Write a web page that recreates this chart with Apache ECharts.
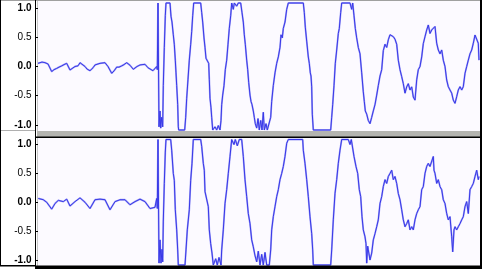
<!DOCTYPE html>
<html><head><meta charset="utf-8">
<script src="https://cdn.jsdelivr.net/npm/echarts@6/dist/echarts.min.js"></script>
<style>html,body{margin:0;padding:0;background:#fff}#c{width:482px;height:269px}</style>
</head><body><div id="c"></div>
<script>
// time in display columns, amplitude in [-1, 1]
const topChannel = [
[0,0.05],[4,0.07],[7,0.06],[10,0.04],[13.7,-0.08],[16,-0.05],[18.7,-0.03],[21,-0.01],[23.7,0.01],[26,0.03],[28.7,0.05],[32,-0.055],[34,-0.04],[37,0],[40,0.01],[42,0.06],[44,0.04],[47,0],[49,-0.04],[52,-0.066],[55,-0.02],[57,0.024],[62,0.05],[67,0.06],[70,0],[73.7,-0.107],[76,-0.07],[78.7,-0.01],[81,-0.01],[83.7,0.01],[86,0.03],[88.7,0.06],[92,0.02],[95.3,-0.044],[99,0],[102,0.024],[107,0.035],[110,-0.02],[112,-0.044],[115,-0.066],[117,-0.04],[118.7,0],
[119.3,-0.05],[120,1],[120.7,1],[121,-0.95],[122,-0.7],[122.7,-0.97],[123.7,-0.8],[124.7,-0.95],[125.3,-0.3],[126.3,0.3],[127.3,0.8],[128,1],[132,1],[133,0.79],[134,0.7],[135.3,0.5],[136.3,0.35],[137.3,0.1],[138,-0.1],[138.7,-0.3],[139.7,-0.6],[140.3,-0.95],[140.7,-1],[146.7,-1],[147.7,-0.8],[148.7,-0.5],[150,-0.2],[151.3,0.1],[152.7,0.35],[153.7,0.55],[154.7,0.8],[155.7,1],[162.7,1],[163.7,0.85],[164.7,0.7],[166,0.45],[167,0.3],[168,0.13],[169.3,0.1],[170.7,0.05],[171.3,-0.2],[172,-0.5],[173,-0.65],[173.7,-0.8],[174.7,-1],[177,-0.95],[178.7,-1],[180.3,-0.93],[182,-1],[183,-0.85],[183.7,-0.6],[184.7,-0.45],[186,-0.3],[187.3,-0.05],[188.7,0.1],[190,0.35],[191.3,0.6],[192.7,0.8],[193.7,1],[195.3,0.9],[196.3,1],[198.7,0.95],[200.3,1],[202.7,1],[204,0.85],[205.3,0.7],[206.3,0.5],[207.3,0.35],[208.7,0.1],[209.7,-0.05],[210.7,-0.25],[212,-0.45],[213,-0.55],[214,-0.6],[215.3,-0.7],[216.3,-0.8],[217.3,-0.9],[218.7,-0.97],[220,-0.82],[221.3,-1],[222.7,-0.85],[224,-1],[225.3,-0.72],[226.3,-1],[228,-0.9],[229.3,-1],[231.3,-1],[232.7,-0.8],[233.7,-0.55],[235.3,-0.3],[237,-0.1],[238.7,0.05],[240.3,0.15],[242,0.3],[243,0.5],[244.3,0.45],[245.3,0.6],[247,0.7],[248.7,0.9],[250.3,1],[265.3,1],[266.3,0.85],[267.3,0.62],[268.7,0.4],[270.3,0.15],[271.3,0.05],[272.3,-0.1],[273,-0.15],[273.7,-0.32],[274.3,-0.75],[275.3,-1],[292.7,-1],[293.7,-0.8],[294.7,-0.6],[296,-0.3],[297.3,0.05],[298.7,0.26],[300.3,0.52],[301.3,0.6],[302.7,0.85],[303.7,1],[312,1],[313.7,0.9],[314.7,1],[316,0.8],[317.3,0.6],[318.7,0.45],[320.3,0.3],[322,0.2],[323.7,-0.1],[325.3,-0.4],[326.3,-0.55],[327.3,-0.7],[328.7,-0.75],[330.3,-0.85],[332,-0.9],[333.7,-0.8],[335.3,-0.7],[337,-0.6],[338.7,-0.45],[340.3,-0.3],[342,-0.15],[343.7,-0.05],[345.3,0.25],[347,0.35],[348.7,0.3],[350.3,0.42],[352,0.5],[353.7,0.52],[355.3,0.47],[357,0.43],[358.7,0.35],[360.3,0.1],[362,-0.05],[363.7,-0.16],[365.3,-0.27],[367,-0.42],[368.7,-0.32],[370.3,-0.27],[372,-0.37],[373.7,-0.32],[375.3,-0.48],[377,-0.53],[378.7,-0.21],[380.3,-0.05],[382,0],[383.7,0.15],[385.3,0.36],[387,0.47],[388.7,0.575],[390.3,0.654],[392,0.52],[393.7,0.575],[395.3,0.6],[397,0.63],[398.7,0.365],[400.3,0.26],[402,0.2],[403.7,0.26],[405.3,0.1],[407,0],[408.7,-0.213],[410.3,-0.318],[412,-0.37],[413.7,-0.42],[415.3,-0.53],[417,-0.58],[418.7,-0.475],[420.3,-0.37],[422,-0.318],[423.7,-0.37],[425.3,-0.318],[427,-0.108],[428.7,0],[430.3,0.1],[432,0.2],[433.7,0.26],[435.3,0.365],[437,0.496],[438.7,0.47],[440.3,0.365],[441,0.1]
];
const bottomChannel = [
[0.3,0.06],[5.3,0.04],[8.7,0],[13.7,-0.11],[17,-0.02],[20.3,0.03],[25.3,0.01],[28.7,0.05],[32,-0.06],[37,0.01],[42,0.07],[47,0],[52,-0.1],[57,0.04],[62,0.05],[67,0.04],[72,-0.12],[77,0.01],[82,0.04],[87,0.04],[92,-0.04],[97,0.01],[102,0.05],[107,0.01],[112,-0.1],[117,-0.08],[118.7,0.06],
[119.3,-0.1],[120,1],[120.7,1],[121,-0.97],[122,-0.6],[123,-0.97],[124,-0.75],[124.7,-0.95],[125.3,-0.3],[126.3,0.3],[127.3,0.8],[128,1],[132.7,1],[133.7,0.83],[135.3,0.46],[136.3,0.35],[137.3,-0.12],[138.7,-0.44],[139.7,-0.76],[140.3,-1],[147,-1],[148,-0.76],[149.3,-0.44],[151.3,-0.12],[152.7,0.35],[154,0.62],[155.3,1],[162.7,1],[163.7,0.89],[165.3,0.62],[166.3,0.51],[167,0.17],[168.7,0.14],[170.3,-0.07],[171.3,-0.44],[172.7,-0.66],[174,-0.81],[175.3,-1],[177.7,-0.9],[179.3,-1],[181,-0.88],[183,-1],[183.7,-0.76],[185.3,-0.44],[187,-0.02],[188.7,0.2],[190.3,0.46],[192,0.73],[193.7,1],[196,0.92],[197.3,1],[199.3,0.9],[201.3,1],[203.7,1],[205.3,0.73],[207,0.36],[208.7,0.09],[210.3,-0.18],[212,-0.34],[213.7,-0.6],[215.3,-0.71],[217,-0.85],[218.7,-0.95],[220.3,-0.78],[222,-1],[223.7,-0.83],[225.3,-1],[227,-0.8],[228.7,-1],[231.3,-1],[232.7,-0.76],[233.7,-0.44],[235.3,-0.23],[237,-0.07],[238.7,0.09],[240.3,0.2],[242,0.36],[243.7,0.46],[245.3,0.57],[247,0.73],[248.7,0.94],[250.3,1],[264.7,1],[265.3,0.83],[267,0.62],[268.7,0.36],[270.3,0.09],[272,-0.23],[273.7,-0.5],[274.7,-0.76],[275.3,-1],[292.7,-1],[293.7,-0.76],[295.3,-0.28],[297,0.14],[298.7,0.36],[300.3,0.62],[302,0.83],[303.7,1],[310.3,1],[312,0.92],[313.3,1],[314.7,1],[316,0.73],[318,0.57],[319.7,0.46],[321.3,0.2],[322.7,0.09],[324,-0.23],[325.3,-0.44],[327,-0.55],[328,-0.66],[328.7,-0.97],[329.7,-0.7],[330.3,-0.76],[332,-0.92],[333.7,-0.81],[335.3,-0.6],[337,-0.5],[338.7,-0.39],[340.3,-0.28],[342,-0.02],[343.7,0.09],[345.3,0.25],[347,0.36],[348.7,0.3],[350.3,0.41],[352,0.46],[353.7,0.51],[355.3,0.36],[357,0.41],[358.7,0.3],[360.3,0.14],[362,0.04],[363.7,-0.12],[365.3,-0.28],[367,-0.39],[368.7,-0.34],[370.3,-0.28],[372,-0.44],[373.7,-0.39],[375.3,-0.44],[377,-0.28],[378.7,-0.18],[380.3,-0.12],[382,-0.07],[383.7,0.2],[385.3,0.25],[387,0.46],[388.7,0.57],[390.3,0.62],[392,0.57],[393.7,0.57],[395.3,0.73],[396,0.51],[397,0.46],[398.7,0.3],[400.3,0.36],[402,0.25],[403.7,0.2],[405.3,0.04],[407,-0.02],[408.7,-0.18],[410.3,-0.28],[412,-0.23],[413.7,-0.55],[414.7,-0.79],[416,-0.44],[417,-0.39],[418.7,-0.44],[420.3,-0.39],[422,-0.34],[423.7,-0.28],[425.3,-0.23],[427,-0.07],[428.7,0.01],[430.3,-0.18],[432,0.2],[433.7,0.25],[435.3,0.3],[437,0.41],[438.7,0.51],[440.3,0.36],[441,0.41]
];
const tickValues = [-1, -0.5, 0, 0.5, 1];
const tickLabels = ['-1.0', '-0.5', '0.0', '0.5', '1.0'];
const boldLabels = ['-1.0', '0.0', '1.0'];
const timeExtent = [0, 441];

const FONT = '"Liberation Sans", Arial, sans-serif';
const inset = 0.92; // the ruler draws the ±1 marks just inside the track edge
const markPos = tickValues.map(v => v * inset);
const WAVE = '#3838e8';
const WAVE_LIGHT = '#a4a4f6';
const TRACK_BG = '#fcfaff';

function yAxisFor(gridIndex) {
  return {
    type: 'value', gridIndex, min: -1, max: 1, offset: 2.5,
    axisLine: { show: false }, splitLine: { show: false },
    axisTick: { show: true, length: 3, customValues: markPos, lineStyle: { color: '#000', width: 1 } },
    axisLabel: {
      customValues: markPos, margin: 4, fontFamily: FONT, fontSize: 10, color: '#000',
      formatter: val => {
        const i = markPos.findIndex(p => Math.abs(p - val) < 1e-6);
        const s = tickLabels[i];
        return boldLabels.includes(s) ? '{b|' + s + '}' : '{n|' + s + '}';
      },
      rich: {
        b: { fontFamily: FONT, fontSize: 10, fontWeight: 'bold', color: '#000' },
        n: { fontFamily: FONT, fontSize: 10, color: '#000' }
      }
    }
  };
}
function xAxisFor(gridIndex) {
  return { type: 'value', gridIndex, min: timeExtent[0], max: timeExtent[1], show: false };
}
function waveSeries(idx, data, color, width, z) {
  return {
    type: 'line', xAxisIndex: idx, yAxisIndex: idx, data, symbol: 'none', showSymbol: false,
    clip: false, lineStyle: { color, width }, z, silent: true
  };
}
const rect = (x, y, w, h, fill, z) => ({ type: 'rect', shape: { x, y, width: w, height: h }, style: { fill }, z, silent: true });

const chart = echarts.init(document.getElementById('c'));
chart.setOption({
  animation: false,
  backgroundColor: '#ffffff',
  grid: [
    { left: 38, right: 3, top: 3, height: 127 },
    { left: 38, right: 3, top: 139.5, height: 125.5 }
  ],
  xAxis: [xAxisFor(0), xAxisFor(1)],
  yAxis: [yAxisFor(0), yAxisFor(1)],
  series: [
    waveSeries(0, topChannel, WAVE_LIGHT, 1.8, 4),
    waveSeries(1, bottomChannel, WAVE_LIGHT, 1.8, 4),
    waveSeries(0, topChannel, WAVE, 1, 5),
    waveSeries(1, bottomChannel, WAVE, 1, 5)
  ],
  graphic: { elements: [
    rect(37, 1, 443, 130, TRACK_BG, -10),
    rect(37, 137, 443, 129, TRACK_BG, -10),
    rect(37, 1, 1, 130, '#c8c8c8', -9),
    rect(37, 138, 1, 128, '#c8c8c8', -9),
    rect(0, 0, 482, 1, '#a0a0a0', 50),
    rect(0, 0, 1, 266, '#000000', 50),
    rect(35, 0, 1, 266, '#000000', 50),
    rect(1, 130, 34, 1, '#b0b0b0', 50),
    rect(37, 131, 443, 6, '#b4b4b0', 50),
    rect(35, 136.5, 445, 1.5, '#000000', 50),
    rect(480, 0, 2, 269, '#000000', 50),
    rect(0, 265, 35, 1.5, '#000000', 50),
    rect(35, 265.5, 447, 3.5, '#000000', 50)
  ] }
});
</script>
</body></html>
